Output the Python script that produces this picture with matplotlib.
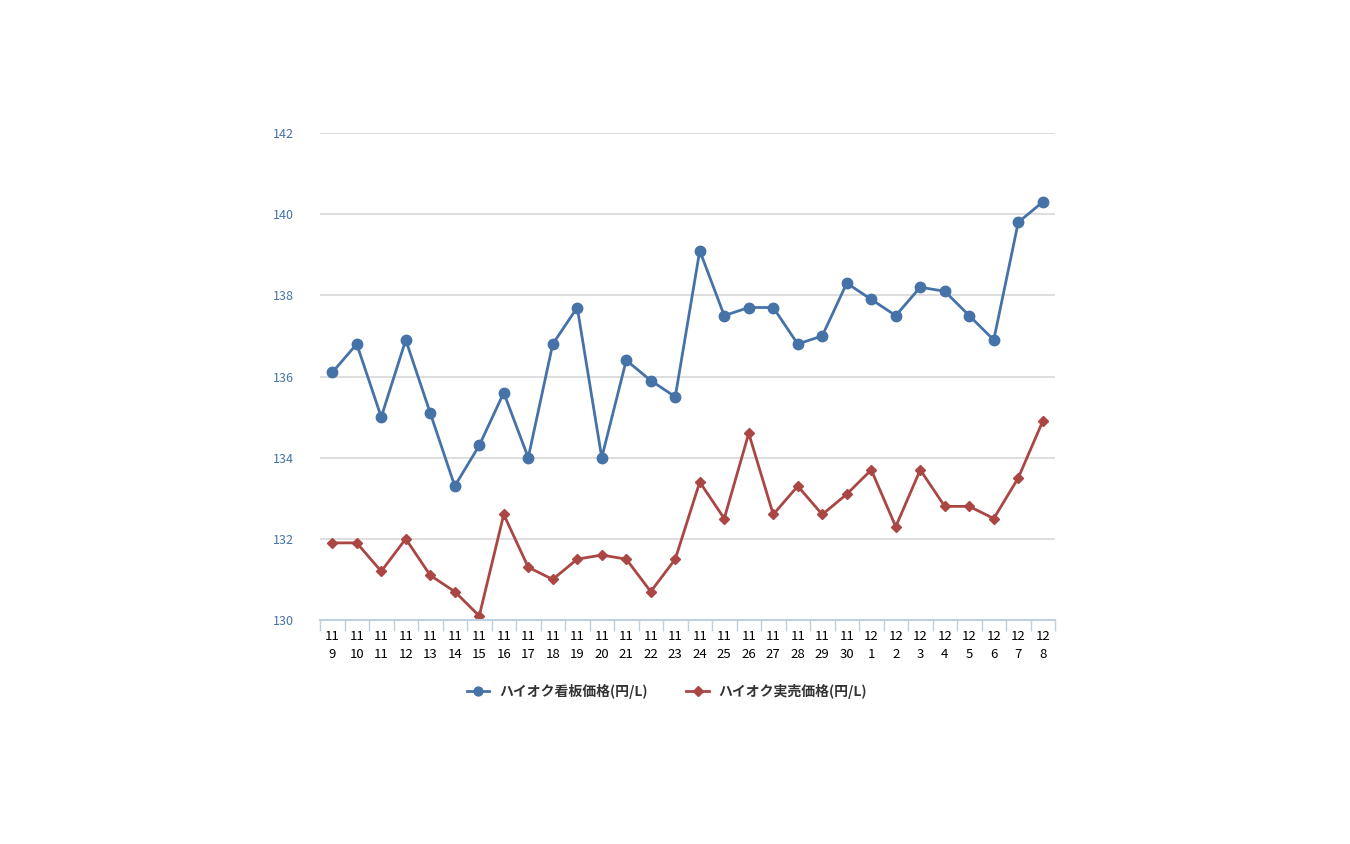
import matplotlib
matplotlib.use("Agg")
import matplotlib.pyplot as plt
import numpy as np

plt.rcParams['font.family'] = ['Noto Sans CJK JP', 'DejaVu Sans']

months = ["11"] * 22 + ["12"] * 8
days = [str(d) for d in range(9, 31)] + [str(d) for d in range(1, 9)]
signboard = [136.1, 136.8, 135.0, 136.9, 135.1, 133.3, 134.3, 135.6, 134.0, 136.8,
             137.7, 134.0, 136.4, 135.9, 135.5, 139.1, 137.5, 137.7, 137.7, 136.8,
             137.0, 138.3, 137.9, 137.5, 138.2, 138.1, 137.5, 136.9, 139.8, 140.3]
actual = [131.9, 131.9, 131.2, 132.0, 131.1, 130.7, 130.1, 132.6, 131.3, 131.0,
          131.5, 131.6, 131.5, 130.7, 131.5, 133.4, 132.5, 134.6, 132.6, 133.3,
          132.6, 133.1, 133.7, 132.3, 133.7, 132.8, 132.8, 132.5, 133.5, 134.9]
yticks = [130, 132, 134, 136, 138, 140, 142]
labels = ["ハイオク看板価格(円/L)", "ハイオク実売価格(円/L)"]

fig = plt.figure(figsize=(13.5, 8.44), dpi=100)
ax = fig.add_axes([320/1350, 1-620/844, 735/1350, 487/844])

x = np.arange(len(days))
ax.plot(x, signboard, color='#4572A7', lw=2.0, marker='o', ms=7.5, label=labels[0])
ax.plot(x, actual, color='#AA4643', lw=2.0, marker='D', ms=5.5, label=labels[1])

ax.set_xlim(-0.5, len(days) - 0.5)
ax.set_ylim(130, 142)
ax.set_yticks(yticks)
ax.set_yticklabels([str(v) for v in yticks], color='#4572A7', fontsize=9)
ax.tick_params(axis='y', length=0, pad=19)
ax.grid(axis='y', color='#d8d8d8', lw=1.2)
ax.set_axisbelow(True)

ax.set_xticks(x)
ax.set_xticklabels([f"{m}\n{d}" for m, d in zip(months, days)], fontsize=9.5, color='#000000',
                   linespacing=1.55)
ax.tick_params(axis='x', length=0, pad=7)
ax.set_xticks(np.arange(-0.5, len(days), 1.0), minor=True)
ax.tick_params(axis='x', which='minor', length=8, color='#c0d0e0', width=1)

for s in ['top', 'right', 'left']:
    ax.spines[s].set_visible(False)
ax.spines['bottom'].set_color('#c0d0e0')
ax.spines['bottom'].set_linewidth(1.5)

leg = fig.legend(loc='center', bbox_to_anchor=(667/1350, 1-691/844), ncol=2, frameon=False,
                 prop={'size': 10, 'weight': 'bold'}, handlelength=1.6, columnspacing=2.8,
                 handletextpad=0.7, markerscale=0.85)
for t in leg.get_texts():
    t.set_color('#333333')

fig.savefig('out.png', dpi=100)
